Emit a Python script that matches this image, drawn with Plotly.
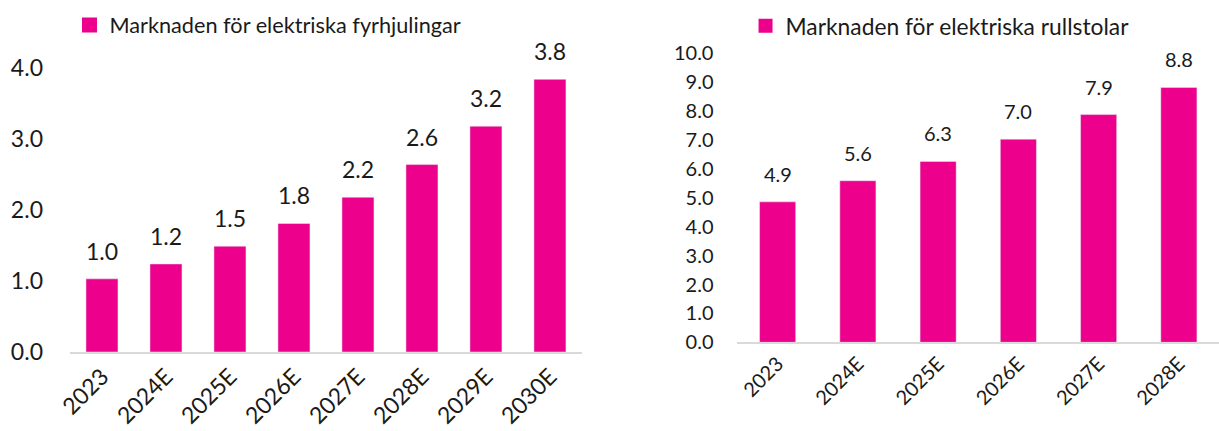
import plotly.graph_objects as go

left_categories = ["2023", "2024E", "2025E", "2026E", "2027E", "2028E", "2029E", "2030E"]
left_values = [1.03, 1.24, 1.49, 1.81, 2.18, 2.64, 3.18, 3.84]
left_name = "Marknaden för elektriska fyrhjulingar"
left_ticks = [0, 1, 2, 3, 4]

right_categories = ["2023", "2024E", "2025E", "2026E", "2027E", "2028E"]
right_values = [4.86, 5.59, 6.26, 7.03, 7.88, 8.82]
right_name = "Marknaden för elektriska rullstolar"
right_ticks = [0, 1, 2, 3, 4, 5, 6, 7, 8, 9, 10]

BAR = "#EC008C"
FONT = "Lato"
TXT = "#1a1a1a"
LSIZE = 23
RSIZE = 20

fig = go.Figure()
fig.add_trace(go.Bar(x=left_categories, y=left_values, name=left_name, marker_color=BAR,
                     xaxis="x", yaxis="y", showlegend=False, width=0.5))
fig.add_trace(go.Bar(x=right_categories, y=right_values, name=right_name, marker_color=BAR,
                     xaxis="x2", yaxis="y2", showlegend=False, width=0.45))
# legend entries with square swatches
fig.add_trace(go.Scatter(x=[None], y=[None], mode="markers", name=left_name,
                         marker=dict(symbol="square", size=15, color=BAR),
                         xaxis="x", yaxis="y", legend="legend"))
fig.add_trace(go.Scatter(x=[None], y=[None], mode="markers", name=right_name,
                         marker=dict(symbol="square", size=14, color=BAR),
                         xaxis="x2", yaxis="y2", legend="legend2"))

annotations = []
for i, v in enumerate(left_values):
    annotations.append(dict(x=i, y=v, xref="x", yref="y", text=f"{v:.1f}", showarrow=False,
                            yanchor="bottom", yshift=12, font=dict(size=LSIZE, color=TXT, family=FONT)))
for i, v in enumerate(right_values):
    annotations.append(dict(x=i, y=v, xref="x2", yref="y2", text=f"{v:.1f}", showarrow=False,
                            yanchor="bottom", yshift=14, font=dict(size=RSIZE, color=TXT, family=FONT)))

fig.update_layout(
    width=1219, height=431,
    margin=dict(l=0, r=0, t=0, b=0, autoexpand=False),
    paper_bgcolor="white", plot_bgcolor="white",
    font=dict(family=FONT, color=TXT),
    annotations=annotations,
    xaxis=dict(domain=[0.0574, 0.4774], anchor="y", type="category", showline=True,
               range=[-0.5, len(left_categories) - 0.5],
               linecolor="#d9d9d9", linewidth=2, tickangle=-45, tickfont=dict(size=LSIZE),
               showgrid=False, ticks=""),
    yaxis=dict(domain=[0.1833, 0.8422], anchor="x", range=[0, 4], tickvals=left_ticks,
               tickformat=".1f", showgrid=False, zeroline=False, tickfont=dict(size=LSIZE),
               ticklabelstandoff=26),
    xaxis2=dict(domain=[0.605, 1.0], anchor="y2", type="category", showline=True,
                range=[-0.5, len(right_categories) - 0.5],
                linecolor="#d9d9d9", linewidth=2, tickangle=-45, tickfont=dict(size=RSIZE),
                showgrid=False, ticks=""),
    yaxis2=dict(domain=[0.2058, 0.8763], anchor="x2", range=[0, 10], tickvals=right_ticks,
                tickformat=".1f", showgrid=False, zeroline=False, tickfont=dict(size=RSIZE),
                ticklabelstandoff=23),
    legend=dict(x=0.057, y=0.99, xanchor="left", yanchor="top", font=dict(size=21.7, color=TXT),
                bgcolor="rgba(0,0,0,0)", itemwidth=30),
    legend2=dict(x=0.6116, y=0.99, xanchor="left", yanchor="top", font=dict(size=22.8, color=TXT),
                 bgcolor="rgba(0,0,0,0)", itemwidth=30),
    showlegend=True,
)

fig.write_html("out.html", config={"displayModeBar": False},
               post_script="document.body.style.margin='0';document.body.style.padding='0';")
